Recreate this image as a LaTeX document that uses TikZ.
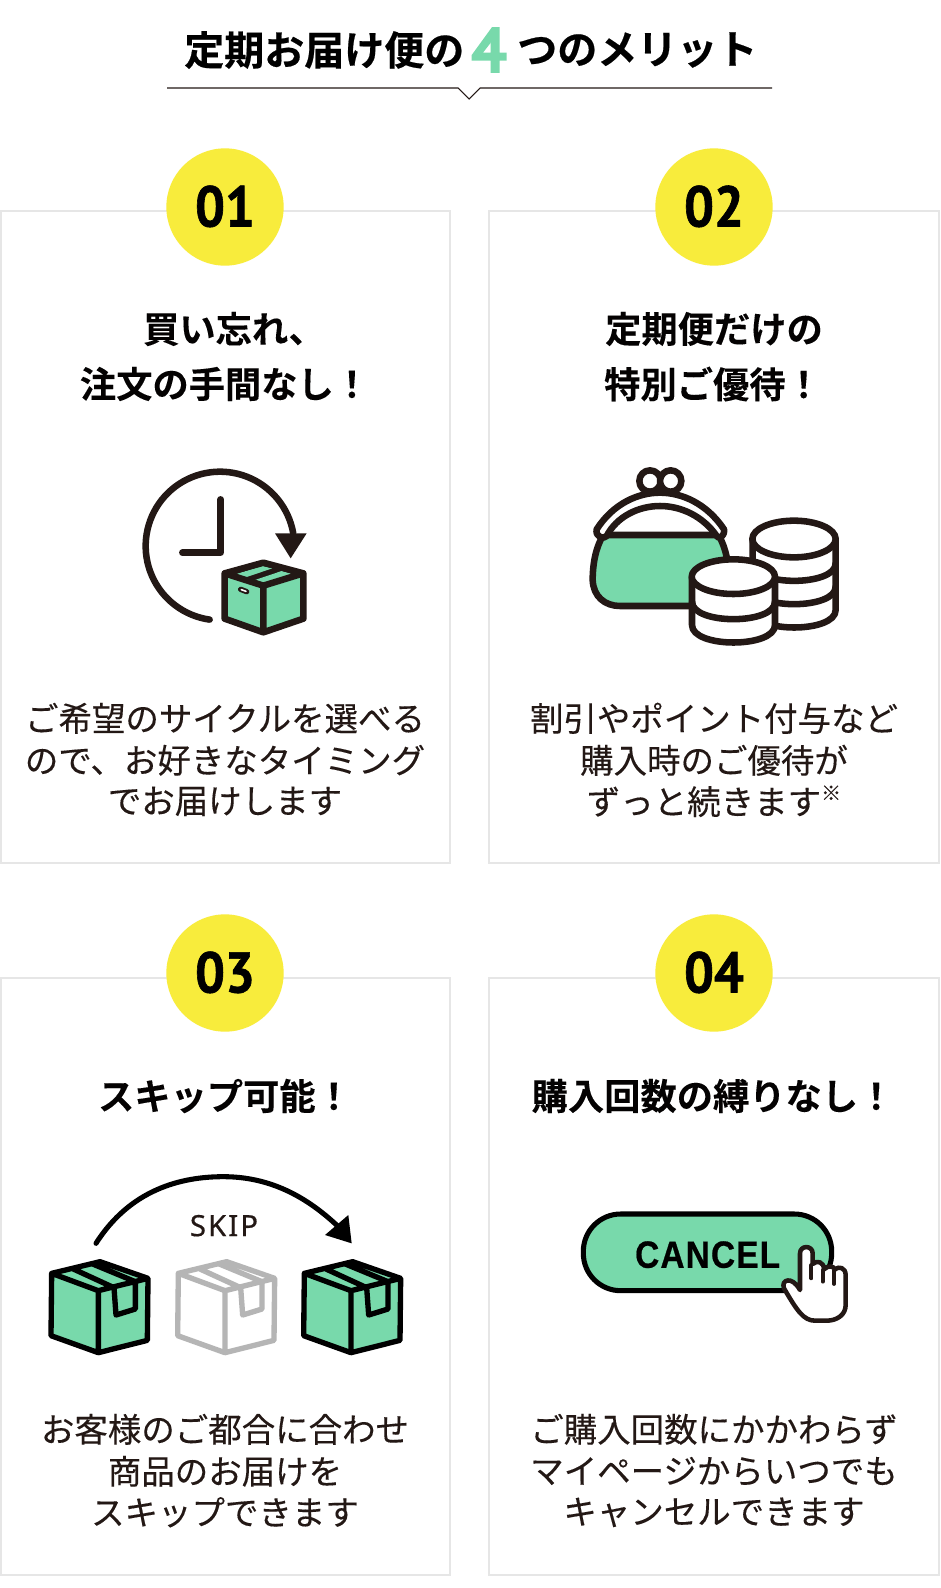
\documentclass[tikz,border=0pt]{standalone}
\usepackage{fontspec}
\setmainfont{Noto Sans CJK JP}
\newfontfamily\bodyfont[FakeBold=0.25]{Noto Sans CJK JP}
\newfontfamily\titlefont[FakeBold=0.5]{Noto Sans CJK JP Bold}
\newfontfamily\headfont[FakeBold=0.15]{Noto Sans CJK JP Bold}
\newfontfamily\numfont[FakeBold=1.1,FakeStretch=0.92]{PT Sans Bold}
\newfontfamily\bignum[FakeBold=2.2]{PT Sans Bold}
\newfontfamily\skipfont[FakeBold=0.5,LetterSpace=7]{Noto Sans}
\newfontfamily\cancelfont[FakeBold=0.5,LetterSpace=3,FakeStretch=0.88]{Liberation Sans Bold}
\definecolor{ink}{HTML}{231815}
\definecolor{mint}{HTML}{78D9AB}
\definecolor{sun}{HTML}{F8EC3C}
\definecolor{frameg}{HTML}{E6E6E6}
\definecolor{ghost}{HTML}{B5B5B5}
\tikzset{
  panel/.style={draw=frameg,line width=1.5pt,fill=white},
  badge/.style={circle,fill=sun,minimum size=88pt,inner sep=0pt,font=\numfont\fontsize{43}{46}\selectfont,text=black},
  headline/.style={inner sep=0pt,font=\headfont\fontsize{27.2}{32}\selectfont,text=black!90!ink},
  bodyline/.style={inner sep=0pt,font=\bodyfont\fontsize{25.1}{30}\selectfont,text=ink},
  titletxt/.style={inner sep=0pt,anchor=west,font=\titlefont\fontsize{30}{34}\selectfont,text=black},
  inkline/.style={draw=ink,line width=4.9pt,line join=round,line cap=round},
}
\newcommand{\SkBox}[3]{%
  \begin{scope}[xshift=#1*0.25pt]
    \fill[#3] (65,340)--(210,305)--(354,355)--(352,541)--(205,578)--(63,527)--cycle;
    \draw[draw=#2,line width=4pt,line join=round]
      (65,340)--(210,305)--(354,355)--(352,541)--(205,578)--(63,527)--cycle
      (65,340)--(205,392)--(354,355) (205,392)--(205,578)
      (130,327)--(252,383)--(258,465)--(316,447)--(316,365)--(188,312);
  \end{scope}}
\begin{document}
\begin{tikzpicture}[x=0.75pt,y=-0.75pt]
\useasboundingbox (0,0) rectangle (940,1588);
\fill[white] (0,0) rectangle (940,1588);
% title
\node[titletxt] (t1) at (184,50) {定期お届け便の};
\node[inner sep=0pt,font=\bignum\fontsize{47}{50}\selectfont,text=mint] (t2) at (489,50) {4};
\node[titletxt] (t3) at (517,50) {つのメリット};
\draw[ink,line width=0.8pt] (167,88)--(458,88)--(469,99)--(480,88)--(772,88);
% panels
\draw[panel] (1,211) rectangle (450,863);
\draw[panel] (489,211) rectangle (939,863);
\draw[panel] (1,977.5) rectangle (450,1575);
\draw[panel] (489,977.5) rectangle (939,1575);
\node[badge] (b1) at (225,207) {\raisebox{1.5pt}{01}};
\node[badge] (b2) at (714,207) {\raisebox{1.5pt}{02}};
\node[badge] (b3) at (225,973) {\raisebox{1.5pt}{03}};
\node[badge] (b4) at (714,973) {\raisebox{1.5pt}{04}};
% headings
\node[headline] (h1a) at (234,329) {買い忘れ、};
\node[headline] (h1b) at (225,384) {注文の手間なし！};
\node[headline] (h2a) at (714,329) {定期便だけの};
\node[headline] (h2b) at (713,384) {特別ご優待！};
\node[headline] (h3) at (225,1096) {スキップ可能！};
\node[headline] (h4) at (713,1096) {購入回数の縛りなし！};
% body
\node[bodyline] (p1a) at (225,718.3) {ご希望のサイクルを選べる};
\node[bodyline] (p1b) at (225,760.3) {ので、お好きなタイミング};
\node[bodyline] (p1c) at (225,801.3) {でお届けします};
\node[bodyline] (p2a) at (714,718.3) {割引やポイント付与など};
\node[bodyline] (p2b) at (714,760.3) {購入時のご優待が};
\node[bodyline] (p2c) at (714,801.3) {ずっと続きます\raisebox{0.42em}{\fontsize{15}{16}\selectfont ※}};
\node[bodyline] (p3a) at (225,1429.3) {お客様のご都合に合わせ};
\node[bodyline] (p3b) at (225,1471.3) {商品のお届けを};
\node[bodyline] (p3c) at (225,1512.3) {スキップできます};
\node[bodyline] (p4a) at (714,1429.3) {ご購入回数にかかわらず};
\node[bodyline] (p4b) at (714,1471.3) {マイページからいつでも};
\node[bodyline] (p4c) at (714,1512.3) {キャンセルできます};
% icon 1
\begin{scope}[shift={(100,440)},x=0.25pt,y=-0.25pt]
  \draw[inkline] plot[domain=98:350,samples=70,variable=\t] ({360+223*cos(\t)},{318+223*sin(\t)});
  \fill[ink] (525,280)--(620,280)--(572,355)--cycle;
  \draw[inkline] (362,178)--(362,338)--(247,338);
  \fill[mint] (374,400)--(490,368)--(610,400)--(610,536)--(490,577)--(374,536)--cycle;
  \fill[ink] (374,400)--(490,368)--(610,400)--(490,437)--cycle;
  \fill[mint] (405,403)--(487,378)--(517,385)--(437,412)--cycle;
  \fill[mint] (465,420)--(545,393)--(577,402)--(497,430)--cycle;
  \draw[inkline] (374,400)--(490,368)--(610,400)--(610,536)--(490,577)--(374,536)--cycle
     (374,400)--(490,437)--(610,400) (490,437)--(490,577);
  \draw[ink,line width=4pt,line cap=round] (422,448)--(440,455);
  \draw[white,line width=1.2pt,line cap=round] (424,449)--(438,454);
\end{scope}
% icon 2
\begin{scope}[shift={(570,450)},x=0.25pt,y=-0.25pt]
  \draw[inkline,fill=mint] (100,255) .. controls (78,290) and (68,340) .. (68,390)
     .. controls (70,440) and (105,468) .. (150,468) -- (400,468) -- (470,320) .. controls (465,300) and (460,280) .. (445,255) -- cycle;
  \draw[inkline,fill=white] (240,93) circle[radius=32];
  \draw[inkline,fill=white] (302,93) circle[radius=32];
  \draw[inkline,fill=white] (80,238) .. controls (130,160) and (205,128) .. (270,128)
     .. controls (335,128) and (410,160) .. (462,238)
     .. controls (465,260) and (445,270) .. (440,258)
     .. controls (400,200) and (335,168) .. (270,168)
     .. controls (205,168) and (140,200) .. (110,258)
     .. controls (100,270) and (75,260) .. (80,238) -- cycle;
  % right stack
  \draw[inkline,fill=white] (548,267) -- (548,480) .. controls (548,550) and (797,550) .. (797,480) -- (797,267) -- cycle;
  \draw[inkline] (548,340) .. controls (548,410) and (797,410) .. (797,340);
  \draw[inkline] (548,410) .. controls (548,480) and (797,480) .. (797,410);
  \draw[inkline,fill=white] (672,267) ellipse[x radius=125,y radius=55];
  % left stack
  \draw[inkline,fill=white] (366,380) -- (366,525) .. controls (366,595) and (615,595) .. (615,525) -- (615,380) -- cycle;
  \draw[inkline] (366,455) .. controls (366,525) and (615,525) .. (615,455);
  \draw[inkline,fill=white] (490,380) ellipse[x radius=125,y radius=52];
\end{scope}
% icon 3
\begin{scope}[shift={(30,1160)},x=0.25pt,y=-0.25pt]
  \SkBox{0}{black}{mint}
  \SkBox{380}{ghost}{white}
  \SkBox{758}{black}{mint}
  \draw[black,line width=3.8pt,line cap=round] (198,250) .. controls (300,90) and (450,50) .. (580,50) .. controls (720,50) and (830,110) .. (925,200);
  \fill[black] (955,165)--(885,225)--(965,250)--cycle;
  \node[inner sep=0pt,font=\skipfont\fontsize{22}{24}\selectfont,text=ink] (skiplabel) at (582,197) {SKIP};
\end{scope}
% icon 4
\begin{scope}[shift={(570,1190)},x=0.25pt,y=-0.25pt]
  \draw[draw=black,fill=mint,line width=3.8pt,rounded corners=28pt] (40,72) rectangle (785,302);
  \node[inner sep=0pt,font=\cancelfont\fontsize{28.5}{30}\selectfont,text=black] (cancellabel) at (413,194) {CANCEL};
  \draw[ink,fill=white,line width=3.4pt,line join=round,line cap=round]
    (690,300) -- (690,190) .. controls (690,165) and (728,165) .. (728,190) -- (728,222)
    .. controls (740,210) and (762,215) .. (762,238)
    .. controls (775,225) and (790,228) .. (795,238)
    .. controls (805,228) and (827,232) .. (827,255)
    -- (827,345) .. controls (827,375) and (800,392) .. (770,392) -- (735,392)
    .. controls (700,392) and (680,360) .. (642,295)
    .. controls (632,270) and (665,255) .. (690,300) -- cycle;
  \draw[ink,line width=2.8pt,line cap=round] (724,265)--(724,225) (758,275)--(758,240) (792,282)--(792,242);
\end{scope}
\end{tikzpicture}
\end{document}
